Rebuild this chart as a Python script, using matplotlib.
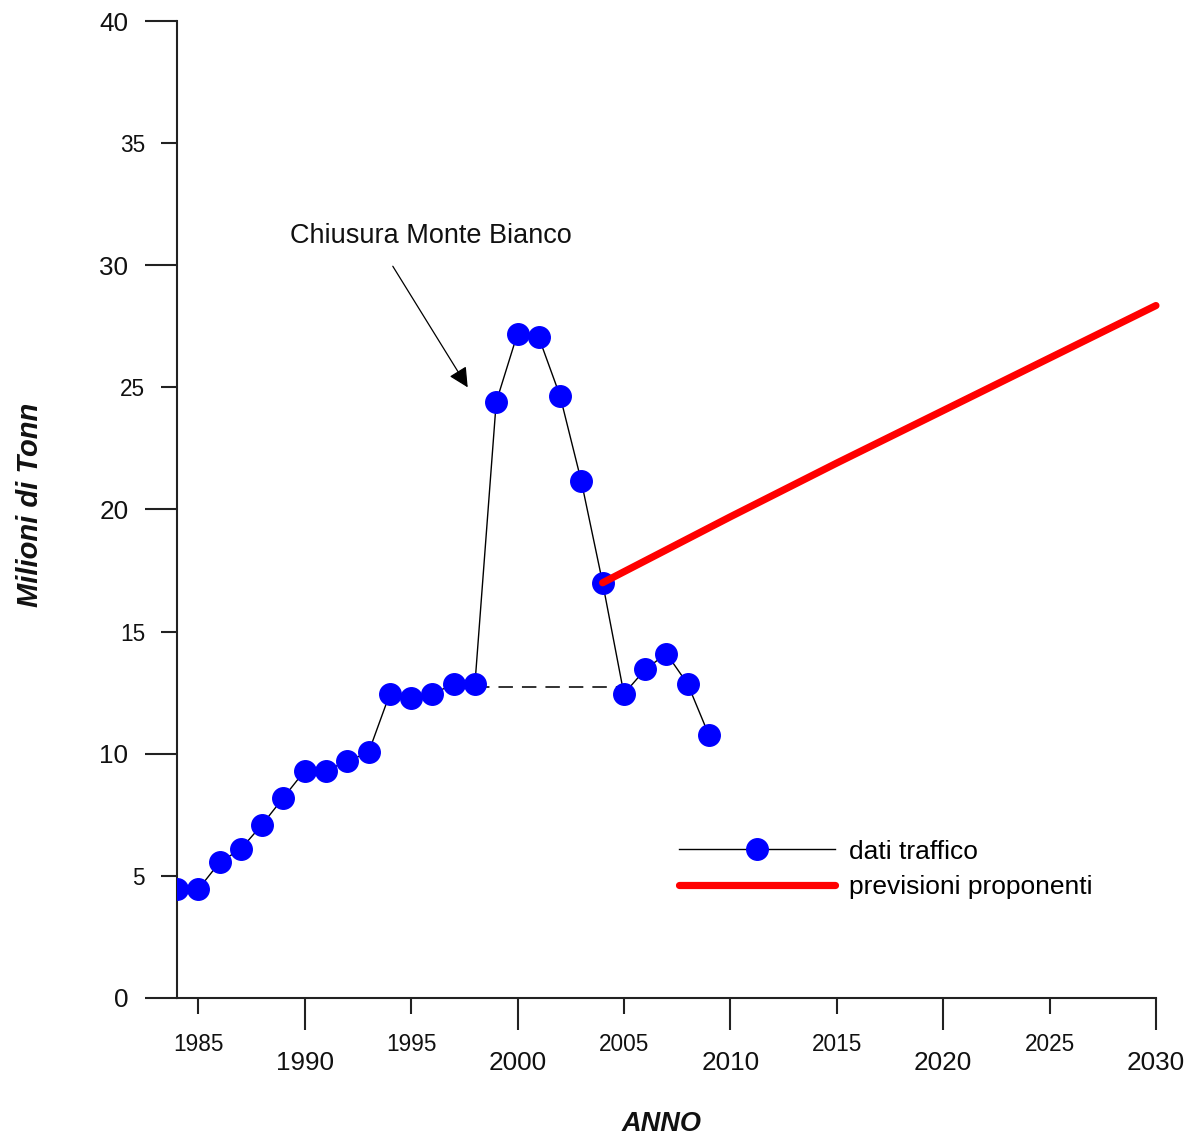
import matplotlib
matplotlib.use("Agg")
import matplotlib.pyplot as plt

# Traffic data (millions of tonnes per year)
years = [1984, 1985, 1986, 1987, 1988, 1989, 1990, 1991, 1992, 1993,
         1994, 1995, 1996, 1997, 1998, 1999, 2000, 2001, 2002, 2003,
         2004, 2005, 2006, 2007, 2008, 2009]
traffic = [4.45, 4.45, 5.55, 6.1, 7.1, 8.2, 9.3, 9.3, 9.7, 10.05,
           12.45, 12.3, 12.45, 12.85, 12.85, 24.4, 27.2, 27.05, 24.65, 21.15,
           17.0, 12.45, 13.45, 14.1, 12.85, 10.75]

# Baseline across the Monte Bianco closure period
gap_years = [1998, 2005]
gap_level = [12.72, 12.72]

# Proponents' forecast
forecast_years = [2004, 2010, 2015, 2020, 2025, 2030]
forecast = [17.0, 19.7, 21.9, 24.05, 26.2, 28.35]

x_major = [1990, 2000, 2010, 2020, 2030]
x_minor = [1985, 1995, 2005, 2015, 2025]
y_major = [0, 10, 20, 30, 40]
y_minor = [5, 15, 25, 35]

plt.rcParams['font.family'] = ['Liberation Sans', 'DejaVu Sans']

fig = plt.figure(figsize=(11.88, 11.37), dpi=100)
ax = fig.add_axes([0.149, 0.1223, 0.824, 0.8592])

ax.plot(gap_years, gap_level, color='#222222', lw=1.3, dashes=(8, 5), zorder=2)
ax.plot(years, traffic, color='black', lw=1.0, marker='o', markersize=15.5,
        markerfacecolor='#0000ff', markeredgecolor='#0000ff',
        label='dati traffico', zorder=3)
ax.plot(forecast_years, forecast, color='#ff0000', lw=5.2,
        solid_capstyle='round', solid_joinstyle='round',
        label='previsioni proponenti', zorder=4, clip_on=False)

ax.set_xlim(1984, 2030)
ax.set_ylim(0, 40)

for side in ('top', 'right'):
    ax.spines[side].set_visible(False)
for side in ('left', 'bottom'):
    ax.spines[side].set_linewidth(1.5)
    ax.spines[side].set_color('#222222')

ax.set_xticks(x_major, [str(v) for v in x_major])
ax.set_xticks(x_minor, [str(v) for v in x_minor], minor=True)
ax.set_yticks(y_major, [str(v) for v in y_major])
ax.set_yticks(y_minor, [str(v) for v in y_minor], minor=True)

ax.tick_params(axis='both', which='both', width=1.5, color='#222222',
               labelcolor='#111111')
ax.tick_params(axis='x', which='major', length=23, labelsize=18.8, pad=15)
ax.tick_params(axis='x', which='minor', length=11.5, labelsize=16.3, pad=13.5)
ax.tick_params(axis='y', which='major', length=23, labelsize=18.8, pad=12)
ax.tick_params(axis='y', which='minor', length=11.5, labelsize=16.3, pad=11.5)

ax.text(1989.3, 31.2, 'Chiusura Monte Bianco', fontsize=19.5, ha='left',
        va='center', color='#111111')
ax.annotate('', xy=(1997.66, 25.0), xytext=(1994.14, 29.96),
            arrowprops=dict(arrowstyle='-|>,head_length=0.6,head_width=0.3',
                            color='black', lw=0.9, mutation_scale=20,
                            shrinkA=0, shrinkB=0))

leg = ax.legend(loc='center left', bbox_to_anchor=(0.513, 0.1315),
                frameon=False, fontsize=19, handlelength=5.9,
                handletextpad=0.55, labelspacing=0.45, borderpad=0,
                borderaxespad=0, numpoints=1)

fig.text(30 / 1188, 1 - 505 / 1137, 'Milioni di Tonn', rotation=90,
         fontsize=21, fontweight='bold', fontstyle='italic',
         ha='center', va='center', color='#111111')
fig.text(662 / 1188, 1 - 1124 / 1137, 'ANNO', fontsize=19.5,
         fontweight='bold', fontstyle='italic', ha='center', va='center',
         color='#111111')

fig.savefig('out.png', dpi=100, facecolor='white')
